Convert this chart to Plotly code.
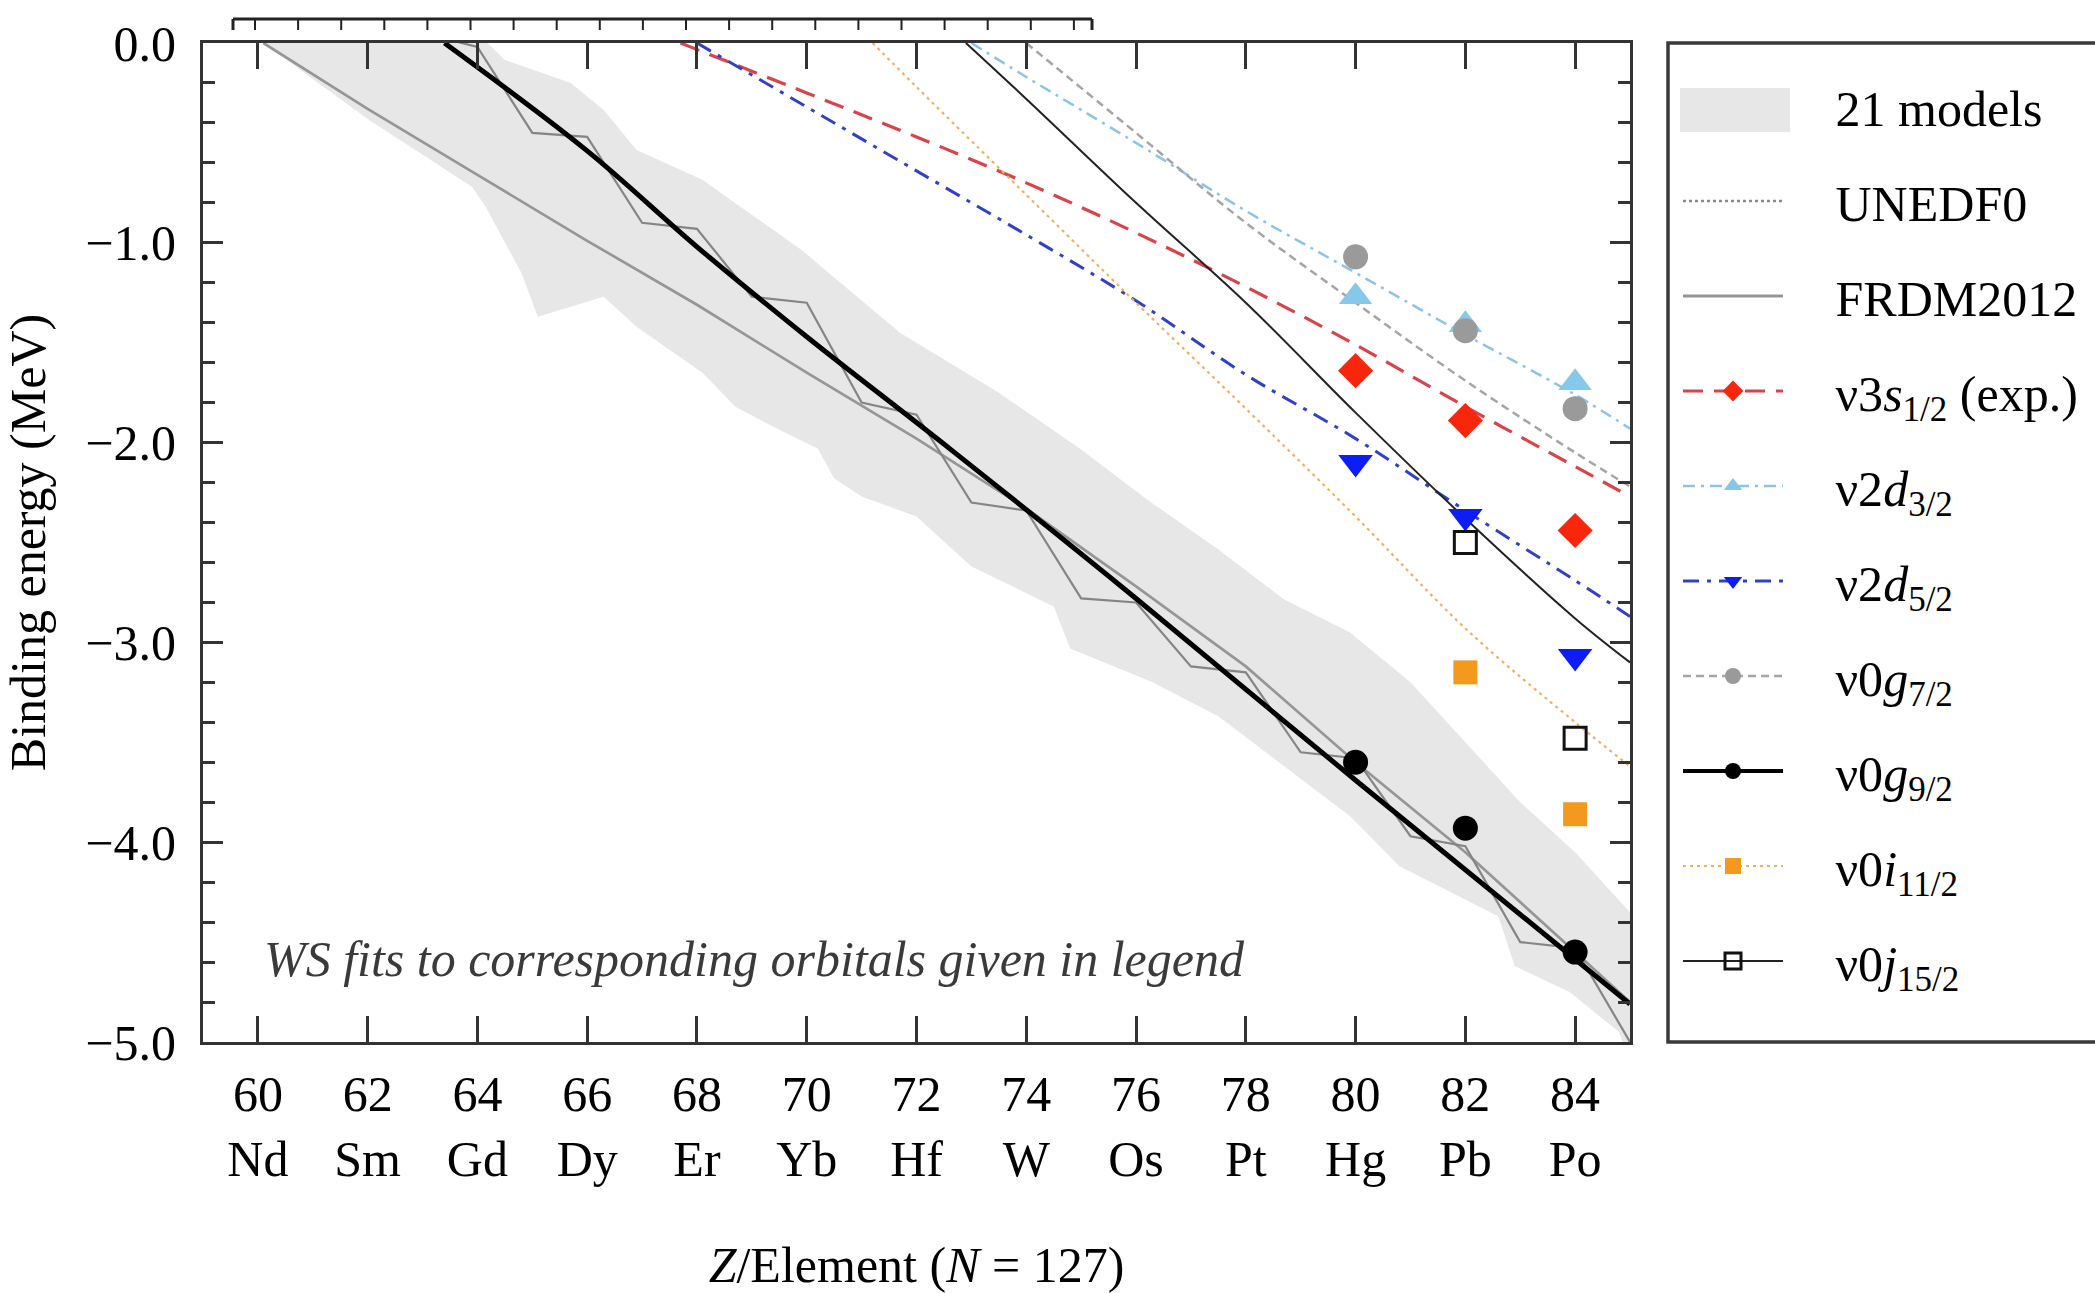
import plotly.graph_objects as go

# ---------------- data ----------------
Z_TICKS = [60, 62, 64, 66, 68, 70, 72, 74, 76, 78, 80, 82, 84]
ELEMENTS = ["Nd", "Sm", "Gd", "Dy", "Er", "Yb", "Hf", "W", "Os", "Pt", "Hg", "Pb", "Po"]
Y_TICKS = [0, -1, -2, -3, -4, -5]
Y_TICK_TEXT = ["0.0", "\u22121.0", "\u22122.0", "\u22123.0", "\u22124.0", "\u22125.0"]

# 21-model band (upper and lower envelopes)
band_z_upper = [59.0, 64.0, 64.5, 65.7, 66.3, 66.9, 68.1, 69.9, 71.7, 73.5, 75.0, 76.2, 77.5, 78.7, 79.9, 81.0, 82.0, 83.0, 84.0, 85.0]
band_e_upper = [0.2, 0.05, -0.085, -0.2, -0.335, -0.535, -0.685, -1.035, -1.45, -1.75, -2.035, -2.285, -2.535, -2.785, -2.95, -3.2, -3.5, -3.8, -4.05, -4.35]
band_z_lower = [60.1, 62.0, 63.9, 64.15, 64.8, 65.1, 65.7, 66.3, 66.9, 68.1, 68.7, 69.6, 70.2, 70.5, 71.0, 72.0, 73.0, 74.5, 74.8, 76.3, 77.5, 78.7, 79.9, 80.8, 82.6, 82.9, 83.9, 84.8, 85.0]
band_e_lower = [0.0, -0.38, -0.72, -0.82, -1.15, -1.37, -1.32, -1.27, -1.42, -1.65, -1.82, -1.95, -2.03, -2.18, -2.27, -2.37, -2.62, -2.82, -3.03, -3.2, -3.37, -3.62, -3.87, -4.12, -4.37, -4.62, -4.75, -4.95, -5.1]

# FRDM2012
frdm_z = [60.1, 62, 64, 66, 68, 70, 72, 74, 76, 78, 80, 82, 84, 85]
frdm_e = [0.0, -0.33, -0.66, -0.99, -1.31, -1.65, -1.98, -2.33, -2.72, -3.12, -3.6, -4.05, -4.55, -4.8]

# UNEDF0 (odd-even staggering)
unedf0_z = [63, 64, 65, 66, 67, 68, 69, 70, 71, 72, 73, 74, 75, 76, 77, 78, 79, 80, 81, 82, 83, 84, 85]
unedf0_e = [0.05, -0.02, -0.45, -0.47, -0.90, -0.93, -1.27, -1.30, -1.80, -1.86, -2.30, -2.34, -2.78, -2.80, -3.12, -3.15, -3.55, -3.58, -3.97, -4.02, -4.50, -4.53, -5.0]

# experimental orbital energies
exp_z = [80, 82, 84]
s12_exp = [-1.64, -1.89, -2.44]
d32_exp = [-1.27, -1.41, -1.70]
d52_exp = [-2.10, -2.37, -3.07]
g72_exp = [-1.07, -1.44, -1.83]
g92_exp = [-3.60, -3.93, -4.55]
i112_z = [82, 84]
i112_exp = [-3.15, -3.86]
j152_z = [82, 84]
j152_exp = [-2.50, -3.48]

# Woods-Saxon fits
s12_fit_z = [67.7, 70, 72, 74, 76, 78, 80, 82, 84, 85]
s12_fit_e = [0.0, -0.25, -0.47, -0.70, -0.95, -1.22, -1.51, -1.82, -2.12, -2.27]
d32_fit_z = [73.0, 74, 76, 78, 80, 82, 84, 85]
d32_fit_e = [0.0, -0.17, -0.50, -0.84, -1.15, -1.46, -1.76, -1.93]
d52_fit_z = [68, 70, 72, 74, 76, 78, 80, 82, 84, 85]
d52_fit_e = [0.0, -0.32, -0.64, -0.96, -1.29, -1.66, -1.98, -2.34, -2.69, -2.87]
g72_fit_z = [74.0, 76, 78, 80, 82, 84, 85]
g72_fit_e = [0.0, -0.45, -0.90, -1.30, -1.69, -2.05, -2.22]
g92_fit_z = [63.4, 66, 68, 70, 72.65, 76, 80, 85]
g92_fit_e = [0.0, -0.54, -1.02, -1.47, -2.04, -2.78, -3.69, -4.81]
i112_fit_z = [71.2, 72, 74, 76, 78, 80, 82, 84, 85]
i112_fit_e = [0.0, -0.22, -0.76, -1.30, -1.83, -2.37, -2.93, -3.40, -3.62]
j152_fit_z = [72.9, 74, 76, 78, 80, 82, 84, 85]
j152_fit_e = [0.0, -0.28, -0.80, -1.30, -1.85, -2.38, -2.88, -3.10]

# ---------------- style ----------------
SERIF = "Liberation Serif"
FS = 50
PLOT_L, PLOT_R, PLOT_T, PLOT_B = 203, 1630, 43, 1042
W, H = 2095, 1293
GAP = "\u00a0\u00a0\u00a0\u2009"  # space between legend symbol and text


def px_x(p):
    return (p - PLOT_L) / (PLOT_R - PLOT_L)


def px_y(p):
    return (PLOT_B - p) / (PLOT_B - PLOT_T)


fig = go.Figure()

# band
BAND_COLOR = "#e7e7e7"
fig.add_trace(go.Scatter(
    x=band_z_upper + band_z_lower[::-1], y=band_e_upper + band_e_lower[::-1],
    fill="toself", fillcolor=BAND_COLOR, line=dict(width=0, color=BAND_COLOR),
    mode="lines", name=GAP + "21 models", legendgroup="band", hoverinfo="skip"))

# FRDM2012
fig.add_trace(go.Scatter(x=frdm_z, y=frdm_e, mode="lines", name="FRDM2012",
                         line=dict(color="#969696", width=2.7), showlegend=False, legendgroup="frdm"))
# UNEDF0
fig.add_trace(go.Scatter(x=unedf0_z, y=unedf0_e, mode="lines", name="UNEDF0",
                         line=dict(color="#858585", width=2.2), showlegend=False, legendgroup="unedf0"))

orbitals = [
    dict(key="s12", name="\u03bd3<i>s</i><sub>1/2</sub> (exp.)", fz=s12_fit_z, fe=s12_fit_e, mz=exp_z, me=s12_exp,
         lc="#d9434a", lw=3.2, dash="20px,11px", sym="diamond", ms=27, mc="#f8260c", mlc="#f8260c", mlw=0),
    dict(key="d32", name="\u03bd2<i>d</i><sub>3/2</sub>", fz=d32_fit_z, fe=d32_fit_e, mz=exp_z, me=d32_exp,
         lc="#8cc4e4", lw=2.5, dash="12px,6px,3px,6px", sym="triangle-up", ms=29, mc="#86c8ea", mlc="#86c8ea", mlw=0),
    dict(key="d52", name="\u03bd2<i>d</i><sub>5/2</sub>", fz=d52_fit_z, fe=d52_fit_e, mz=exp_z, me=d52_exp,
         lc="#3240c8", lw=3, dash="16px,8px,4px,8px", sym="triangle-down", ms=30, mc="#0c1ef5", mlc="#0c1ef5", mlw=0),
    dict(key="g72", name="\u03bd0<i>g</i><sub>7/2</sub>", fz=g72_fit_z, fe=g72_fit_e, mz=exp_z, me=g72_exp,
         lc="#a5a5a5", lw=2.5, dash="8px,5px", sym="circle", ms=25, mc="#9a9a9a", mlc="#9a9a9a", mlw=0),
    dict(key="g92", name="\u03bd0<i>g</i><sub>9/2</sub>", fz=g92_fit_z, fe=g92_fit_e, mz=exp_z, me=g92_exp,
         lc="#000000", lw=5, dash="solid", sym="circle", ms=25, mc="#000000", mlc="#000000", mlw=0),
    dict(key="i112", name="\u03bd0<i>i</i><sub>11/2</sub>", fz=i112_fit_z, fe=i112_fit_e, mz=i112_z, me=i112_exp,
         lc="#f0b060", lw=2.2, dash="3px,4px", sym="square", ms=24, mc="#f39a1e", mlc="#f39a1e", mlw=0),
    dict(key="j152", name="\u03bd0<i>j</i><sub>15/2</sub>", fz=j152_fit_z, fe=j152_fit_e, mz=j152_z, me=j152_exp,
         lc="#222222", lw=2, dash="solid", sym="square-open", ms=22, mc="#111111", mlc="#111111", mlw=3),
]

for o in orbitals:
    fig.add_trace(go.Scatter(x=o["fz"], y=o["fe"], mode="lines", line_shape="spline",
                             line=dict(color=o["lc"], width=o["lw"], dash=o["dash"]),
                             showlegend=False, legendgroup=o["key"], hoverinfo="skip"))

for o in orbitals:
    fig.add_trace(go.Scatter(x=o["mz"], y=o["me"], mode="markers", cliponaxis=False,
                             marker=dict(symbol=o["sym"], size=o["ms"], color=o["mc"],
                                         line=dict(color=o["mlc"], width=o["mlw"])),
                             showlegend=False, legendgroup=o["key"]))

# legend-only entries (combined line + marker symbols)
fig.add_trace(go.Scatter(x=[None], y=[None], mode="lines", name=GAP + "UNEDF0", legendgroup="unedf0",
                         line=dict(color="#8a8a8a", width=2.5, dash="3px,3px")))
fig.add_trace(go.Scatter(x=[None], y=[None], mode="lines", name=GAP + "FRDM2012", legendgroup="frdm",
                         line=dict(color="#969696", width=3)))
for o in orbitals:
    fig.add_trace(go.Scatter(x=[None], y=[None], mode="lines+markers", name=GAP + o["name"], legendgroup=o["key"],
                             line=dict(color=o["lc"], width=min(o["lw"], 4), dash=o["dash"]),
                             marker=dict(symbol=o["sym"], size=o["ms"], color=o["mc"],
                                         line=dict(color=o["mlc"], width=o["mlw"]))))

# ---------------- layout ----------------
axis_color = "#333333"
fig.update_layout(
    width=W, height=H,
    margin=dict(l=PLOT_L, r=W - PLOT_R, t=PLOT_T, b=H - PLOT_B, autoexpand=False),
    paper_bgcolor="white", plot_bgcolor="white",
    font=dict(family=SERIF, size=FS, color="black"),
    showlegend=True,
    legend=dict(x=px_x(1678), y=px_y(67), xanchor="left", yanchor="top",
                bgcolor="rgba(0,0,0,0)", borderwidth=0,
                font=dict(family=SERIF, size=FS, color="black"),
                itemwidth=100, traceorder="grouped", tracegroupgap=27,
                itemclick=False, itemdoubleclick=False),
    xaxis=dict(range=[59, 85], tickvals=Z_TICKS,
               ticktext=[f"{z}<br>{e}" for z, e in zip(Z_TICKS, ELEMENTS)],
               ticks="inside", ticklen=26, tickwidth=2.5, tickcolor=axis_color,
               showline=True, linecolor=axis_color, linewidth=3, mirror="ticks",
               showgrid=False, zeroline=False, ticklabelstandoff=6,
               tickfont=dict(family=SERIF, size=FS, color="black"),
               title=dict(text="<i>Z</i>/Element (<i>N</i> = 127)", standoff=62,
                          font=dict(family=SERIF, size=FS, color="black"))),
    yaxis=dict(range=[-5, 0], tickvals=Y_TICKS, ticktext=Y_TICK_TEXT,
               ticks="inside", ticklen=20, tickwidth=3, tickcolor=axis_color,
               minor=dict(ticks="inside", ticklen=12, tickwidth=2.5, tickcolor=axis_color, dtick=0.2, showgrid=False),
               showline=True, linecolor=axis_color, linewidth=3, mirror="ticks",
               showgrid=False, zeroline=False, ticklabelstandoff=14,
               tickfont=dict(family=SERIF, size=FS, color="black"),
               title=dict(text="Binding energy (MeV)", standoff=39,
                          font=dict(family=SERIF, size=FS, color="black"))),
)

# annotation
fig.add_annotation(x=px_x(262), y=px_y(959), xref="paper", yref="paper", xanchor="left", yanchor="middle",
                   text="<i>WS fits to corresponding orbitals given in legend</i>", showarrow=False,
                   font=dict(family=SERIF, size=FS, color="#3a3a3a"))

# legend frame
fig.add_shape(type="rect", xref="paper", yref="paper", x0=px_x(1668), x1=px_x(2140), y0=px_y(PLOT_B), y1=px_y(PLOT_T),
              line=dict(color="#3a3a3a", width=3.5), fillcolor="rgba(0,0,0,0)", layer="above")
# larger swatch for the band legend entry
fig.add_shape(type="rect", xref="paper", yref="paper", x0=px_x(1680), x1=px_x(1790), y0=px_y(132), y1=px_y(88),
              line=dict(width=0), fillcolor=BAND_COLOR, layer="above")

# cropped frame of a neighbouring panel (top strip)
TOP_Y, TOP_TICK = 19, 30
fig.add_shape(type="line", xref="paper", yref="paper", x0=px_x(233), x1=px_x(1092), y0=px_y(TOP_Y), y1=px_y(TOP_Y),
              line=dict(color="#222", width=3))
for xp in [233, 1092]:
    fig.add_shape(type="line", xref="paper", yref="paper", x0=px_x(xp), x1=px_x(xp), y0=px_y(TOP_Y), y1=px_y(TOP_TICK),
                  line=dict(color="#222", width=3))
xp = 255
while xp < 1080:
    fig.add_shape(type="line", xref="paper", yref="paper", x0=px_x(xp), x1=px_x(xp), y0=px_y(TOP_Y), y1=px_y(TOP_TICK),
                  line=dict(color="#222", width=2))
    xp += 43.1

fig.write_html("out.html")
